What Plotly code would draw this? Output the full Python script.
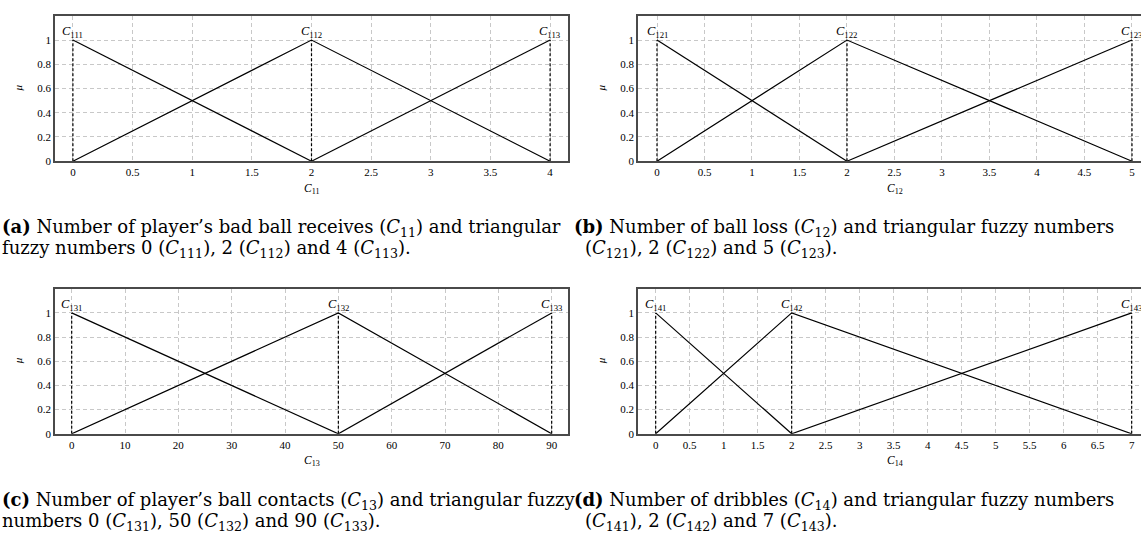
import plotly.graph_objects as go

W, H = 1141, 537

# ---------------- data ----------------
# (a) C11: triangular fuzzy numbers 0, 2, 4
a_peaks = [0, 2, 4]
a_names = ["111", "112", "113"]
a_l_x = [0, 2]; a_l_y = [1, 0]
a_m_x = [0, 2, 4]; a_m_y = [0, 1, 0]
a_r_x = [2, 4]; a_r_y = [0, 1]
a_ticks = [0, 0.5, 1, 1.5, 2, 2.5, 3, 3.5, 4]

# (b) C12: triangular fuzzy numbers 0, 2, 5
b_peaks = [0, 2, 5]
b_names = ["121", "122", "123"]
b_l_x = [0, 2]; b_l_y = [1, 0]
b_m_x = [0, 2, 5]; b_m_y = [0, 1, 0]
b_r_x = [2, 5]; b_r_y = [0, 1]
b_ticks = [0, 0.5, 1, 1.5, 2, 2.5, 3, 3.5, 4, 4.5, 5]

# (c) C13: triangular fuzzy numbers 0, 50, 90
c_peaks = [0, 50, 90]
c_names = ["131", "132", "133"]
c_l_x = [0, 50]; c_l_y = [1, 0]
c_m_x = [0, 50, 90]; c_m_y = [0, 1, 0]
c_r_x = [50, 90]; c_r_y = [0, 1]
c_ticks = [0, 10, 20, 30, 40, 50, 60, 70, 80, 90]

# (d) C14: triangular fuzzy numbers 0, 2, 7
d_peaks = [0, 2, 7]
d_names = ["141", "142", "143"]
d_l_x = [0, 2]; d_l_y = [1, 0]
d_m_x = [0, 2, 7]; d_m_y = [0, 1, 0]
d_r_x = [2, 7]; d_r_y = [0, 1]
d_ticks = [0, 0.5, 1, 1.5, 2, 2.5, 3, 3.5, 4, 4.5, 5, 5.5, 6, 6.5, 7]

y_ticks = [0, 0.2, 0.4, 0.6, 0.8, 1]
y_ticktext = ["0", "0.2", "0.4", "0.6", "0.8", "1"]

captions = {
    "a": ["<b>(a)</b> Number of player’s bad ball receives (<i>C</i><sub>11</sub>) and triangular",
          "fuzzy numbers 0 (<i>C</i><sub>111</sub>), 2 (<i>C</i><sub>112</sub>) and 4 (<i>C</i><sub>113</sub>)."],
    "b": ["<b>(b)</b> Number of ball loss (<i>C</i><sub>12</sub>) and triangular fuzzy numbers",
          "(<i>C</i><sub>121</sub>), 2 (<i>C</i><sub>122</sub>) and 5 (<i>C</i><sub>123</sub>)."],
    "c": ["<b>(c)</b> Number of player’s ball contacts (<i>C</i><sub>13</sub>) and triangular fuzzy",
          "numbers 0 (<i>C</i><sub>131</sub>), 50 (<i>C</i><sub>132</sub>) and 90 (<i>C</i><sub>133</sub>)."],
    "d": ["<b>(d)</b> Number of dribbles (<i>C</i><sub>14</sub>) and triangular fuzzy numbers",
          "(<i>C</i><sub>141</sub>), 2 (<i>C</i><sub>142</sub>) and 7 (<i>C</i><sub>143</sub>)."],
}
axis_names = ["11", "12", "13", "14"]

# ---------------- layout constants (pixels) ----------------
FONT = "Liberation Serif"
CAP_FONT = "DejaVu Serif"
panels = [
    # key, axis suffix, left px, right px, top px, bottom px, x range, right frame
    ("a", "", 55, 568, 16, 163, [-0.15, 4.15], True),
    ("b", "2", 638, 1141, 16, 163, [-0.2, 5.095], False),
    ("c", "3", 55, 568, 292, 438.7, [-3.13, 93.06], True),
    ("d", "4", 638, 1141, 292, 438.7, [-0.26, 7.137], False),
]
curves = {
    "a": [(a_l_x, a_l_y), (a_m_x, a_m_y), (a_r_x, a_r_y)],
    "b": [(b_l_x, b_l_y), (b_m_x, b_m_y), (b_r_x, b_r_y)],
    "c": [(c_l_x, c_l_y), (c_m_x, c_m_y), (c_r_x, c_r_y)],
    "d": [(d_l_x, d_l_y), (d_m_x, d_m_y), (d_r_x, d_r_y)],
}
peaks = {"a": a_peaks, "b": b_peaks, "c": c_peaks, "d": d_peaks}
names = {"a": a_names, "b": b_names, "c": c_names, "d": d_names}
xticks = {"a": a_ticks, "b": b_ticks, "c": c_ticks, "d": d_ticks}

fig = go.Figure()
layout = dict(
    width=W, height=H,
    margin=dict(l=0, r=0, t=0, b=0),
    paper_bgcolor="white", plot_bgcolor="white",
    showlegend=False,
    font=dict(family=FONT, color="black", size=11),
)
annotations = []

FRAME = "#4a4a4a"
GRID = "#c8c8c8"

for i, (key, suf, L, R, T, B, xr, rframe) in enumerate(panels):
    xa = "x" + suf
    ya = "y" + suf
    for cx, cy in curves[key]:
        fig.add_trace(go.Scatter(x=cx, y=cy, mode="lines", xaxis=xa, yaxis=ya,
                                 line=dict(color="black", width=1.2), hoverinfo="skip"))
    for p in peaks[key]:
        fig.add_trace(go.Scatter(x=[p, p], y=[0, 1], mode="lines", xaxis=xa, yaxis=ya,
                                 line=dict(color="black", width=1.2, dash="3px,2px"),
                                 hoverinfo="skip"))
    for p, n in zip(peaks[key], names[key]):
        annotations.append(dict(x=p, y=1, xref=xa, yref=ya, text="<i>C</i><sub>%s</sub>" % n,
                                showarrow=False, xanchor="center", yanchor="bottom",
                                font=dict(family=FONT, size=12.5), yshift=-2))
    xt = xticks[key]
    layout["xaxis" + suf] = dict(
        domain=[L / W, R / W], range=xr, anchor=ya,
        tickvals=xt, ticktext=[("%g" % v) for v in xt],
        showgrid=True, gridcolor=GRID, gridwidth=0.8, griddash="4px,3px",
        zeroline=False, showline=True, linecolor=FRAME, linewidth=1.5, mirror=True,
        ticks="", tickfont=dict(family=FONT, size=11), fixedrange=True,
    )
    layout["yaxis" + suf] = dict(
        domain=[1 - B / H, 1 - T / H], range=[0, 1.2], anchor=xa,
        tickvals=y_ticks, ticktext=y_ticktext,
        showgrid=True, gridcolor=GRID, gridwidth=0.8, griddash="4px,3px",
        zeroline=False, showline=True, linecolor=FRAME, linewidth=1.5, mirror=rframe,
        ticks="", tickfont=dict(family=FONT, size=11), fixedrange=True,
    )
    # axis titles
    annotations.append(dict(x=(L + 513 / 2) / W, y=1 - (B + 28) / H,
                            xref="paper", yref="paper",
                            text="<i>C</i><sub>%s</sub>" % axis_names[i], showarrow=False,
                            xanchor="center", yanchor="middle", font=dict(family=FONT, size=11.5)))
    annotations.append(dict(x=(L - 37) / W, y=1 - (T + B) / 2 / H, xref="paper", yref="paper",
                            text="<i>μ</i>", showarrow=False, textangle=-90,
                            xanchor="center", yanchor="middle", font=dict(family=FONT, size=11)))
    # captions
    cap_x = 0 if L < 300 else 572
    cap_x2 = 0 if L < 300 else 583
    annotations.append(dict(x=cap_x / W, y=1 - (B + 68) / H, xref="paper", yref="paper",
                            text=captions[key][0], showarrow=False, xanchor="left",
                            yanchor="middle", align="left", font=dict(family=CAP_FONT, size=18)))
    annotations.append(dict(x=cap_x2 / W, y=1 - (B + 89) / H, xref="paper", yref="paper",
                            text=captions[key][1], showarrow=False, xanchor="left",
                            yanchor="middle", align="left", font=dict(family=CAP_FONT, size=18)))

layout["annotations"] = annotations
fig.update_layout(**layout)
fig.write_html("out.html")
